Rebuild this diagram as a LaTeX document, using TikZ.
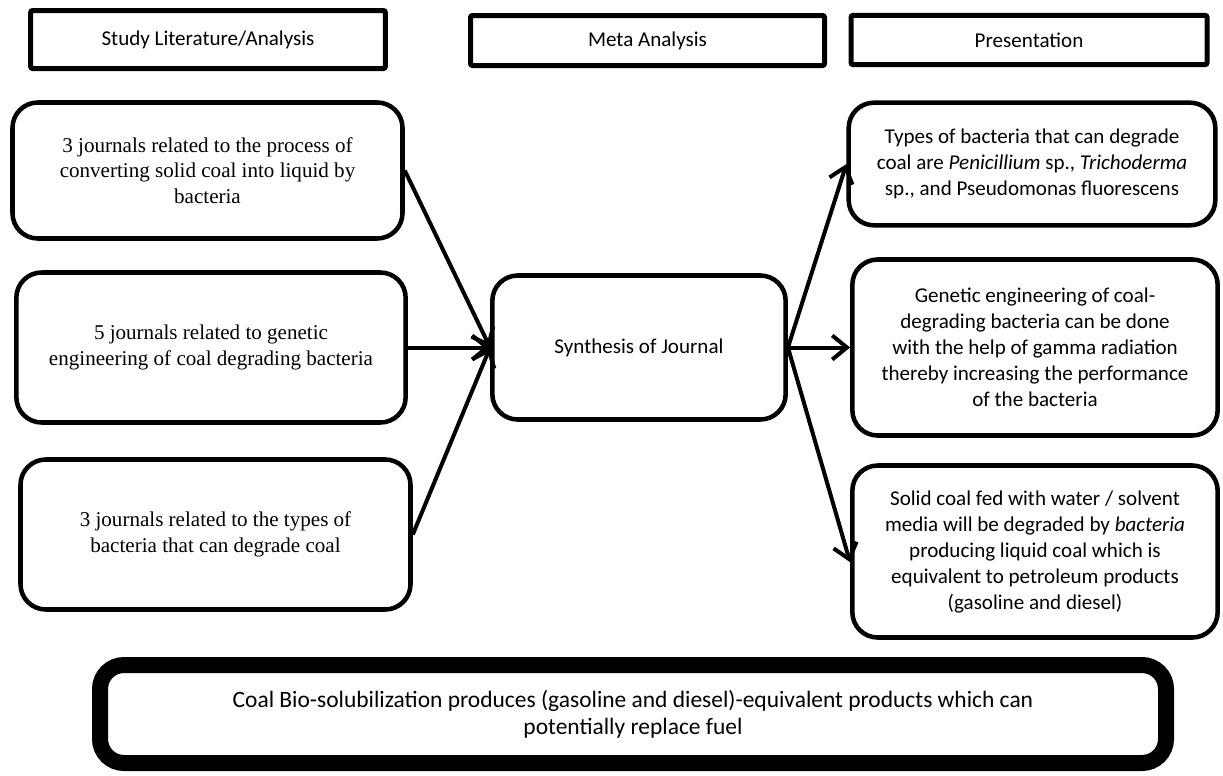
\documentclass[tikz,border=0pt]{standalone}
\usepackage{fontspec}
\setmainfont{Carlito}
\newfontfamily\jrnfont{Liberation Serif}
\usetikzlibrary{arrows.meta}

\tikzset{every picture/.style={line width=0.75pt}}
\tikzset{
  headbox/.style={draw, line width=3.75pt, rounded corners=1.5pt, inner sep=0pt,
    font=\fontsize{15.8}{19.5}\selectfont},
  jrnbox/.style={draw, line width=3.4pt, rounded corners=19pt, inner sep=0pt, align=center,
    font=\jrnfont\fontsize{15.8}{19}\selectfont},
  resbox/.style={draw, line width=3.4pt, rounded corners=19pt, inner sep=0pt, align=center,
    font=\fontsize{15.8}{19.5}\selectfont},
  endbox/.style={draw, line width=12pt, rounded corners=18pt, inner sep=0pt, align=center,
    font=\fontsize{17.6}{20.5}\selectfont},
  flow/.style={line width=3pt, ->}
}

\begin{document}
\begin{tikzpicture}[x=0.75pt,y=0.75pt,yscale=-1,xscale=1,>={Straight Barb[length=11pt,width=18pt]}]
\useasboundingbox (0,0) rectangle (1223,775);

\draw (208,39.5) node [headbox, minimum width=266pt, minimum height=43.5pt] (hstudy) {Study Literature/Analysis};
\draw (647.5,40.5) node [headbox, minimum width=265.5pt, minimum height=37.5pt] (hmeta) {Meta Analysis};
\draw (1029,40) node [headbox, minimum width=267pt, minimum height=37pt] (hpres) {Presentation};

\draw (207.5,170.5) node [jrnbox, minimum width=292.5pt, minimum height=102pt] (jrn1) {3 journals related to the process of\\converting solid coal into liquid by\\bacteria};
\draw (211,347.5) node [jrnbox, minimum width=292pt, minimum height=112.5pt] (jrn2) {5 journals related to genetic\\engineering of coal degrading bacteria};
\draw (215.5,534.5) node [jrnbox, minimum width=292.5pt, minimum height=112.5pt] (jrn3) {3 journals related to the types of\\bacteria that can degrade coal};

\draw (639,347.5) node [resbox, minimum width=220pt, minimum height=108pt] (syn) {Synthesis of Journal};

\draw (1032,164) node [resbox, minimum width=275pt, minimum height=92pt] (res1) {Types of bacteria that can degrade\\coal are \textit{Penicillium} sp., \textit{Trichoderma}\\sp., and Pseudomonas fluorescens};
\draw (1035,347.5) node [resbox, minimum width=274pt, minimum height=132pt] (res2) {Genetic engineering of coal-\\degrading bacteria can be done\\with the help of gamma radiation\\thereby increasing the performance\\of the bacteria};
\draw (1035,551.5) node [resbox, minimum width=274pt, minimum height=129pt] (res3) {Solid coal fed with water / solvent\\media will be degraded by \textit{bacteria}\\producing liquid coal which is\\equivalent to petroleum products\\(gasoline and diesel)};

\draw (633,714) node [endbox, minimum width=799.5pt, minimum height=73.5pt] (concl) {Coal Bio-solubilization produces (gasoline and diesel)-equivalent products which can\\potentially replace fuel};

\draw [flow] (jrn1.east) -- (syn.west) ;
\draw [flow] (jrn2.east) -- (syn.west) ;
\draw [flow] (jrn3.east) -- (syn.west) ;
\draw [flow] (syn.east) -- (res1.west) ;
\draw [flow] (syn.east) -- (res2.west) ;
\draw [flow] (syn.east) -- ([yshift=8pt]res3.west) ;

\end{tikzpicture}
\end{document}
